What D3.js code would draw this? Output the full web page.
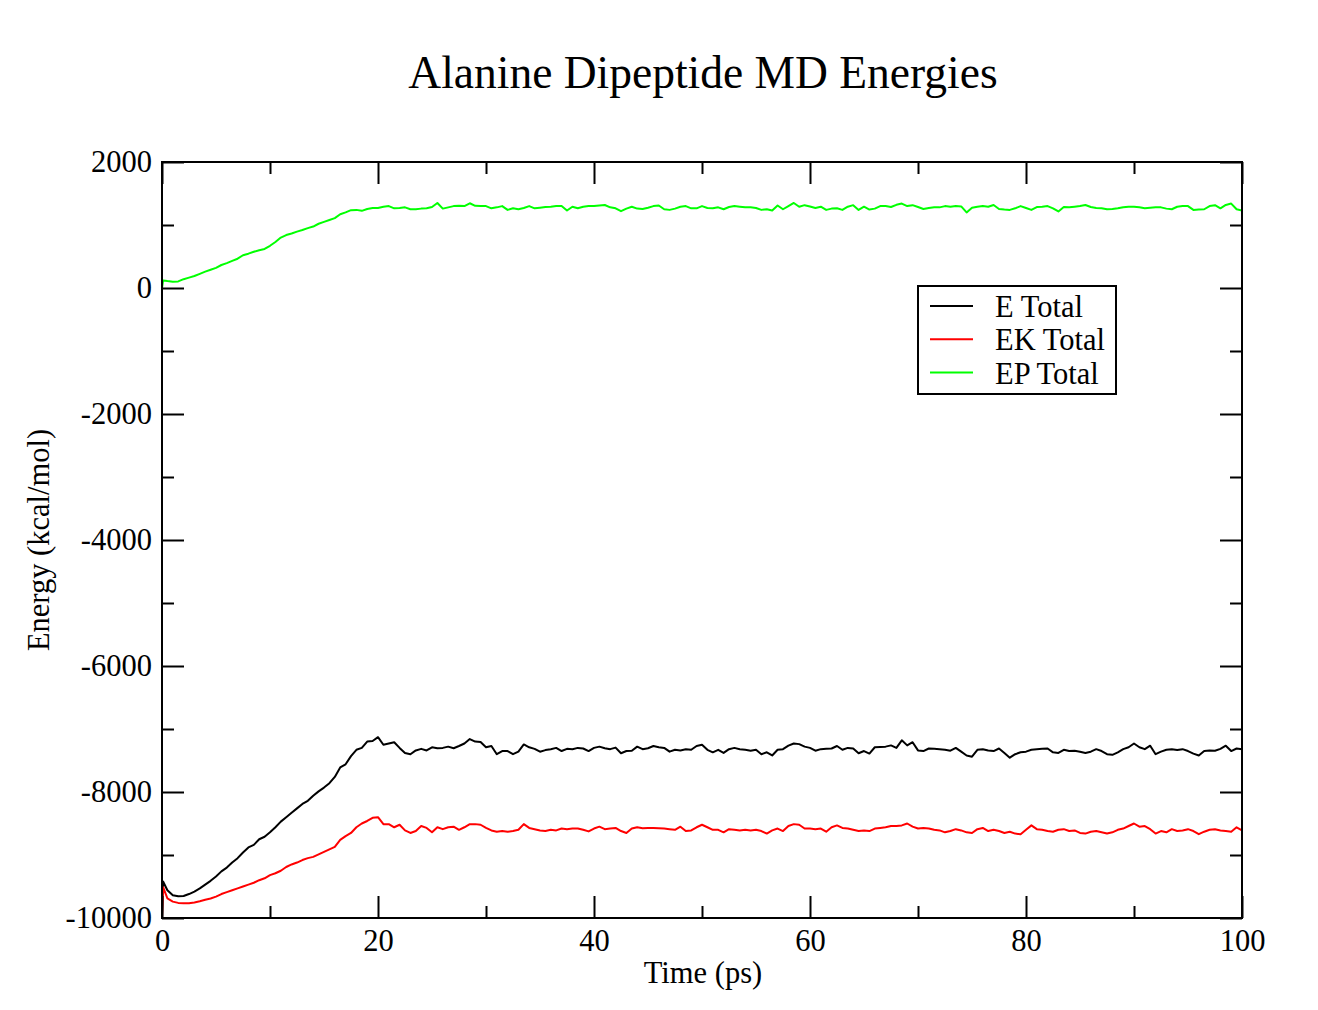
<!DOCTYPE html>
<html>
<head>
<meta charset="utf-8">
<script src="https://cdn.jsdelivr.net/npm/d3@7"></script>
<style>
  html, body { margin: 0; padding: 0; background: #fff; }
  svg text { font-family: "Liberation Serif", "Times New Roman", serif; fill: #000; }
</style>
</head>
<body>
<svg id="chart" width="1318" height="1010"></svg>
<script>
// ---- data ----
const timePs = [0, 0.1].concat(d3.range(0.5, 100.001, 0.5));

const eTotal = [-10000, -9420,
  -9560,-9640,-9655,-9650,-9620,-9580,-9530,-9470,-9410,-9340,
  -9260,-9200,-9120,-9050,-8960,-8880,-8840,-8750,-8710,-8640,
  -8560,-8470,-8400,-8330,-8260,-8190,-8140,-8060,-7990,-7930,
  -7860,-7760,-7610,-7560,-7430,-7330,-7300,-7200,-7190,-7130,
  -7250,-7230,-7210,-7300,-7380,-7400,-7340,-7315,-7340,-7290,
  -7305,-7300,-7280,-7305,-7270,-7230,-7160,-7200,-7205,-7290,
  -7270,-7400,-7350,-7350,-7400,-7360,-7245,-7290,-7315,-7360,
  -7335,-7320,-7300,-7350,-7315,-7320,-7300,-7310,-7350,-7300,
  -7280,-7305,-7320,-7295,-7385,-7350,-7345,-7280,-7320,-7305,
  -7270,-7290,-7300,-7360,-7330,-7340,-7320,-7330,-7270,-7250,
  -7330,-7370,-7330,-7380,-7320,-7300,-7320,-7330,-7345,-7330,
  -7400,-7370,-7420,-7330,-7320,-7265,-7230,-7240,-7280,-7300,
  -7345,-7320,-7315,-7310,-7270,-7330,-7300,-7310,-7385,-7350,
  -7390,-7290,-7285,-7280,-7260,-7300,-7180,-7260,-7210,-7340,
  -7350,-7310,-7315,-7320,-7330,-7345,-7300,-7360,-7420,-7440,
  -7330,-7320,-7340,-7350,-7310,-7380,-7455,-7400,-7370,-7360,
  -7330,-7320,-7315,-7310,-7370,-7380,-7330,-7350,-7345,-7360,
  -7380,-7360,-7320,-7350,-7400,-7410,-7370,-7320,-7290,-7230,
  -7290,-7320,-7265,-7400,-7360,-7330,-7320,-7335,-7320,-7350,
  -7390,-7420,-7350,-7340,-7345,-7315,-7265,-7350,-7310,-7320
];

const ekTotal = [-10000, -9510,
  -9690,-9740,-9760,-9765,-9765,-9755,-9735,-9710,-9690,-9660,
  -9620,-9590,-9560,-9530,-9500,-9470,-9440,-9400,-9370,-9320,
  -9290,-9250,-9190,-9150,-9120,-9080,-9050,-9030,-8990,-8950,
  -8910,-8870,-8760,-8700,-8650,-8560,-8500,-8460,-8410,-8400,
  -8510,-8510,-8560,-8520,-8610,-8650,-8620,-8540,-8570,-8640,
  -8560,-8590,-8560,-8550,-8600,-8560,-8510,-8510,-8520,-8570,
  -8610,-8630,-8620,-8630,-8620,-8600,-8510,-8570,-8590,-8610,
  -8620,-8600,-8610,-8580,-8590,-8580,-8580,-8600,-8625,-8580,
  -8550,-8590,-8580,-8570,-8620,-8650,-8580,-8560,-8575,-8570,
  -8570,-8575,-8580,-8590,-8600,-8550,-8620,-8610,-8560,-8520,
  -8560,-8600,-8600,-8640,-8590,-8600,-8610,-8600,-8610,-8600,
  -8620,-8660,-8610,-8580,-8620,-8540,-8510,-8520,-8580,-8580,
  -8590,-8580,-8630,-8560,-8530,-8570,-8580,-8600,-8620,-8610,
  -8620,-8580,-8570,-8560,-8540,-8540,-8530,-8500,-8550,-8580,
  -8570,-8580,-8600,-8610,-8640,-8620,-8590,-8610,-8640,-8650,
  -8590,-8570,-8620,-8600,-8620,-8650,-8630,-8660,-8670,-8600,
  -8530,-8590,-8600,-8620,-8630,-8600,-8590,-8620,-8610,-8650,
  -8660,-8630,-8620,-8640,-8660,-8640,-8600,-8580,-8540,-8500,
  -8550,-8540,-8590,-8660,-8620,-8640,-8590,-8620,-8610,-8590,
  -8620,-8670,-8630,-8600,-8590,-8610,-8620,-8630,-8560,-8610
];

const epTotal = [0, 120,
  110,100,105,140,165,190,225,260,290,320,
  365,395,430,465,520,545,575,600,620,670,
  730,800,840,865,895,920,950,975,1020,1050,
  1080,1110,1170,1200,1235,1240,1225,1255,1270,1270,
  1290,1300,1265,1270,1280,1250,1250,1260,1265,1285,
  1350,1260,1280,1300,1305,1300,1345,1305,1300,1300,
  1265,1280,1300,1240,1265,1250,1270,1300,1265,1275,
  1285,1290,1300,1300,1230,1290,1265,1290,1300,1300,
  1310,1318,1280,1265,1220,1260,1290,1260,1255,1275,
  1300,1310,1250,1240,1260,1290,1300,1265,1265,1300,
  1270,1265,1280,1250,1285,1300,1290,1280,1280,1270,
  1240,1250,1230,1310,1250,1300,1350,1290,1315,1295,
  1270,1290,1240,1260,1265,1240,1290,1315,1240,1290,
  1245,1260,1300,1300,1285,1320,1340,1300,1315,1285,
  1255,1270,1280,1280,1300,1290,1300,1295,1200,1275,
  1290,1300,1290,1318,1255,1245,1240,1265,1300,1270,
  1240,1285,1290,1300,1265,1215,1285,1280,1290,1300,
  1318,1285,1270,1265,1250,1255,1265,1280,1290,1290,
  1280,1265,1275,1280,1280,1260,1250,1290,1300,1300,
  1240,1245,1250,1300,1315,1265,1318,1340,1250,1230
];

const seriesNames = ["E Total", "EK Total", "EP Total"];
const seriesColors = ["#000000", "#ff0000", "#00ff00"];
const xMajorTicks = [0, 20, 40, 60, 80, 100];
const xMinorTicks = [10, 30, 50, 70, 90];
const yMajorTicks = [2000, 0, -2000, -4000, -6000, -8000, -10000];
const yMinorTicks = [1000, -1000, -3000, -5000, -7000, -9000];
const titleText = "Alanine Dipeptide MD Energies";
const xLabel = "Time (ps)";
const yLabel = "Energy (kcal/mol)";

// ---- layout ----
const svg = d3.select("#chart");
const L = 162, R = 1242, T = 162, B = 918;
const x = d3.scaleLinear().domain([0, 100]).range([L, R]);
const y = d3.scaleLinear().domain([-10000, 2000]).range([B, T]);
const fs = 30.5;

svg.append("defs").append("clipPath").attr("id", "clip")
  .append("rect").attr("x", L).attr("y", T).attr("width", R - L).attr("height", B - T);

// series
const allSeries = [eTotal, ekTotal, epTotal];
const line = d3.line().x(d => x(d[0])).y(d => y(d[1]));
const gLines = svg.append("g").attr("clip-path", "url(#clip)");
[2, 0, 1].forEach(i => {
  const pts = timePs.map((t, k) => [t, allSeries[i][k]]).filter(p => p[1] !== undefined);
  gLines.append("path").datum(pts)
    .attr("d", line)
    .attr("fill", "none")
    .attr("stroke", seriesColors[i])
    .attr("stroke-width", 2)
    .attr("stroke-linejoin", "round");
});

function styleAxis(g) {
  g.select(".domain").remove();
  g.selectAll(".tick line").attr("stroke", "#000").attr("stroke-width", 2);
  g.selectAll("text").attr("font-size", fs).attr("font-family", "Liberation Serif, Times New Roman, serif");
}

// bottom
svg.append("g").attr("transform", `translate(0,${B})`)
  .call(d3.axisBottom(x).tickValues(xMajorTicks).tickSize(-22).tickPadding(11).tickFormat(d3.format("d")))
  .call(styleAxis);
svg.append("g").attr("transform", `translate(0,${B})`)
  .call(d3.axisBottom(x).tickValues(xMinorTicks).tickSize(-12).tickFormat(""))
  .call(styleAxis);
// top
svg.append("g").attr("transform", `translate(0,${T})`)
  .call(d3.axisTop(x).tickValues(xMajorTicks).tickSize(-22).tickFormat(""))
  .call(styleAxis);
svg.append("g").attr("transform", `translate(0,${T})`)
  .call(d3.axisTop(x).tickValues(xMinorTicks).tickSize(-12).tickFormat(""))
  .call(styleAxis);
// left
svg.append("g").attr("transform", `translate(${L},0)`)
  .call(d3.axisLeft(y).tickValues(yMajorTicks).tickSize(-22).tickPadding(10).tickFormat(d => String(d)))
  .call(styleAxis);
svg.append("g").attr("transform", `translate(${L},0)`)
  .call(d3.axisLeft(y).tickValues(yMinorTicks).tickSize(-12).tickFormat(""))
  .call(styleAxis);
// right
svg.append("g").attr("transform", `translate(${R},0)`)
  .call(d3.axisRight(y).tickValues(yMajorTicks).tickSize(-22).tickFormat(""))
  .call(styleAxis);
svg.append("g").attr("transform", `translate(${R},0)`)
  .call(d3.axisRight(y).tickValues(yMinorTicks).tickSize(-12).tickFormat(""))
  .call(styleAxis);

// frame
svg.append("rect").attr("x", L).attr("y", T).attr("width", R - L).attr("height", B - T)
  .attr("fill", "none").attr("stroke", "#000").attr("stroke-width", 2);

// title
svg.append("text").attr("x", 703).attr("y", 88).attr("text-anchor", "middle")
  .attr("font-size", 45.5).text(titleText);
// axis labels
svg.append("text").attr("x", (L + R) / 2 + 1).attr("y", 983).attr("text-anchor", "middle")
  .attr("font-size", fs).text(xLabel);
svg.append("text").attr("transform", `translate(49,${(T + B) / 2}) rotate(-90)`)
  .attr("text-anchor", "middle").attr("font-size", fs).text(yLabel);

// legend
const lg = svg.append("g");
lg.append("rect").attr("x", 918).attr("y", 286).attr("width", 198).attr("height", 108)
  .attr("fill", "#fff").attr("stroke", "#000").attr("stroke-width", 2);
seriesNames.forEach((name, i) => {
  const cy = 306 + i * 33.3;
  lg.append("line").attr("x1", 930).attr("x2", 973).attr("y1", cy).attr("y2", cy)
    .attr("stroke", seriesColors[i]).attr("stroke-width", 2);
  lg.append("text").attr("x", 995).attr("y", cy + 11).attr("font-size", fs).text(name);
});
</script>
</body>
</html>
